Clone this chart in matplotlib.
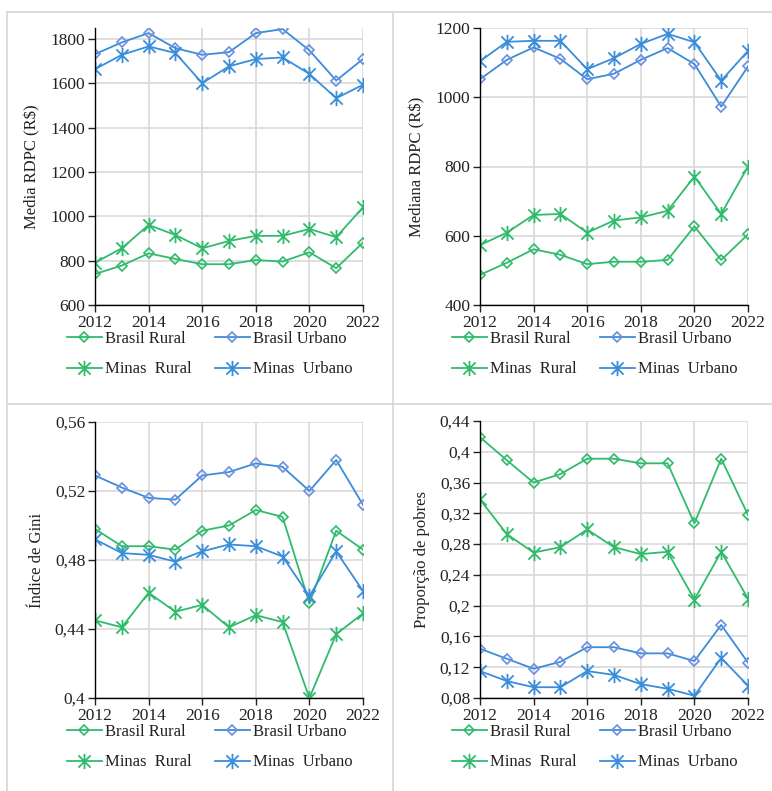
import numpy as np
import matplotlib
matplotlib.use("Agg")
import matplotlib.pyplot as plt
from matplotlib.path import Path
from matplotlib.lines import Line2D
from matplotlib.ticker import FuncFormatter, MultipleLocator

plt.rcParams['font.family'] = 'serif'
plt.rcParams['font.serif'] = ['Liberation Serif', 'DejaVu Serif']
plt.rcParams['font.size'] = 12

# years and series
anos = [2012, 2013, 2014, 2015, 2016, 2017, 2018, 2019, 2020, 2021, 2022]

media_br_rural = [740, 778, 833, 808, 784, 784, 803, 796, 838, 766, 882]
media_br_urbano = [1732, 1785, 1827, 1759, 1729, 1741, 1827, 1845, 1749, 1613, 1710]
media_mg_rural = [791, 856, 961, 916, 856, 889, 912, 912, 943, 906, 1041]
media_mg_urbano = [1664, 1729, 1767, 1737, 1601, 1677, 1710, 1717, 1643, 1533, 1594]

mediana_br_rural = [487, 522, 561, 545, 518, 525, 525, 530, 627, 530, 604]
mediana_br_urbano = [1052, 1108, 1144, 1111, 1052, 1068, 1108, 1142, 1096, 973, 1089]
mediana_mg_rural = [573, 609, 660, 663, 609, 644, 653, 672, 771, 663, 800]
mediana_mg_urbano = [1104, 1160, 1163, 1163, 1081, 1113, 1154, 1183, 1159, 1048, 1134]

gini_br_rural = [0.498, 0.488, 0.488, 0.486, 0.497, 0.500, 0.509, 0.505, 0.455, 0.497, 0.486]
gini_br_urbano = [0.529, 0.522, 0.516, 0.515, 0.529, 0.531, 0.536, 0.534, 0.520, 0.538, 0.512]
gini_mg_rural = [0.445, 0.441, 0.461, 0.450, 0.454, 0.441, 0.448, 0.444, 0.400, 0.437, 0.449]
gini_mg_urbano = [0.492, 0.484, 0.483, 0.479, 0.485, 0.489, 0.488, 0.482, 0.459, 0.485, 0.462]

pobres_br_rural = [0.419, 0.389, 0.360, 0.371, 0.391, 0.391, 0.385, 0.385, 0.307, 0.391, 0.318]
pobres_br_urbano = [0.144, 0.131, 0.118, 0.127, 0.146, 0.146, 0.138, 0.138, 0.128, 0.175, 0.126]
pobres_mg_rural = [0.338, 0.293, 0.269, 0.276, 0.299, 0.276, 0.267, 0.270, 0.208, 0.270, 0.209]
pobres_mg_urbano = [0.115, 0.102, 0.094, 0.094, 0.115, 0.110, 0.098, 0.092, 0.083, 0.132, 0.096]

nomes = ["Brasil Rural", "Brasil Urbano", "Minas  Rural", "Minas  Urbano"]

verde = '#30bb6c'
azul = '#3a8ddb'
azul_claro = '#6b8fe0'
cinza = '#d9d9d9'
texto = '#222222'

# excel-like star marker (vertical line + X)
star = Path([(0, -1), (0, 1), (-0.8, -0.8), (0.8, 0.8), (-0.8, 0.8), (0.8, -0.8)],
            [Path.MOVETO, Path.LINETO, Path.MOVETO, Path.LINETO, Path.MOVETO, Path.LINETO])


def virgula(v, pos):
    return ("%g" % round(v, 2)).replace('.', ',')


def painel(ax, series, ylabel, ylim, ystep, decimal):
    br, bu, mr, mu = series
    h1, = ax.plot(anos, br, color=verde, lw=1.3, marker='D', ms=5.5, mfc='none',
                  mec=verde, mew=1.2, label=nomes[0])
    h2, = ax.plot(anos, bu, color=azul, lw=1.3, marker='D', ms=5.5, mfc='none',
                  mec=azul_claro, mew=1.2, label=nomes[1])
    h3, = ax.plot(anos, mr, color=verde, lw=1.3, marker=star, ms=11, mec=verde,
                  mew=1.3, label=nomes[2])
    h4, = ax.plot(anos, mu, color=azul, lw=1.3, marker=star, ms=11, mec=azul,
                  mew=1.3, label=nomes[3])
    ax.set_xlim(2012, 2022)
    ax.set_ylim(*ylim)
    ax.xaxis.set_major_locator(MultipleLocator(2))
    ax.yaxis.set_major_locator(MultipleLocator(ystep))
    if decimal:
        ax.yaxis.set_major_formatter(FuncFormatter(virgula))
    ax.grid(True, color=cinza, lw=1.2)
    ax.set_axisbelow(True)
    for s in ['top', 'right']:
        ax.spines[s].set_visible(False)
    for s in ['left', 'bottom']:
        ax.spines[s].set_color('black')
        ax.spines[s].set_linewidth(1.0)
    ax.tick_params(direction='out', length=5, width=1, colors=texto, labelsize=12.5, pad=2)
    ax.set_ylabel(ylabel, fontsize=12, color=texto, labelpad=7)
    ax.legend([h1, h3, h2, h4], [nomes[0], nomes[2], nomes[1], nomes[3]], ncol=2,
              loc='upper left', bbox_to_anchor=(-0.106, -0.095), frameon=False,
              borderpad=0, borderaxespad=0, handlelength=2.1, handletextpad=0.2,
              columnspacing=1.4, labelspacing=0.85, fontsize=12, labelcolor=texto)


fig = plt.figure(figsize=(7.72, 7.91), dpi=100)
W, H = 772.0, 791.0


def eixo(l, t, r, b):
    return fig.add_axes([l / W, 1 - b / H, (r - l) / W, (b - t) / H])


ax1 = eixo(95, 28, 363, 305)
ax2 = eixo(480, 28, 748, 305)
ax3 = eixo(95, 422, 363, 698)
ax4 = eixo(480, 421, 748, 698)

painel(ax1, [media_br_rural, media_br_urbano, media_mg_rural, media_mg_urbano],
       "Media RDPC (R$)", (600, 1850), 200, False)
ax1.set_yticks([600, 800, 1000, 1200, 1400, 1600, 1800])
painel(ax2, [mediana_br_rural, mediana_br_urbano, mediana_mg_rural, mediana_mg_urbano],
       "Mediana RDPC (R$)", (400, 1200), 200, False)
painel(ax3, [gini_br_rural, gini_br_urbano, gini_mg_rural, gini_mg_urbano],
       "Índice de Gini", (0.4, 0.56), 0.04, True)
painel(ax4, [pobres_br_rural, pobres_br_urbano, pobres_mg_rural, pobres_mg_urbano],
       "Proporção de pobres", (0.08, 0.44), 0.04, True)

# light grey cell borders
for xs, ys in [((7, 7), (12, 791)), ((393, 393), (12, 791)),
               ((7, 772), (12, 12)), ((7, 772), (404, 404))]:
    fig.add_artist(Line2D([x / W for x in xs], [1 - y / H for y in ys],
                          color=cinza, lw=1.3, transform=fig.transFigure))

fig.savefig('out.png', dpi=100)
